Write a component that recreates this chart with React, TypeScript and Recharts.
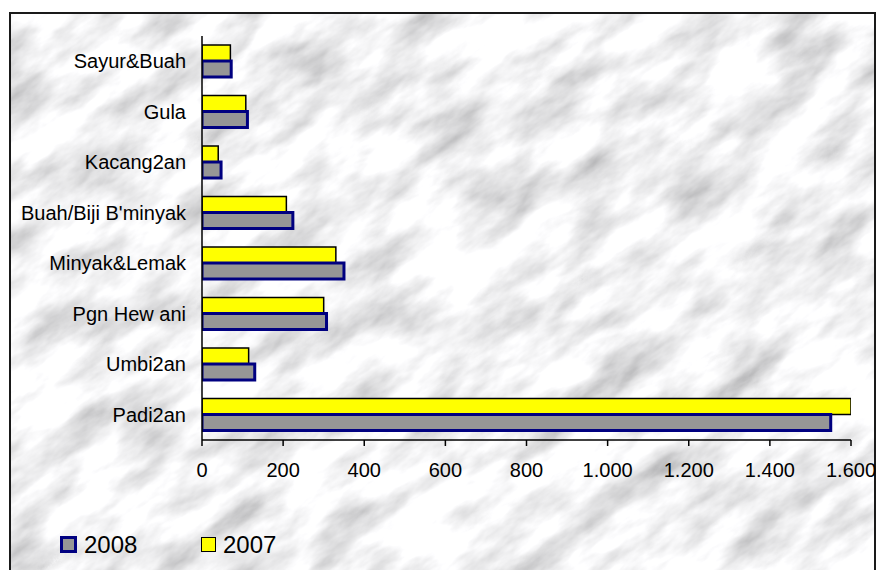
import React from 'react';
import { BarChart, Bar, XAxis, YAxis, Legend } from 'recharts';

const categories = [
  'Sayur&Buah',
  'Gula',
  'Kacang2an',
  "Buah/Biji B'minyak",
  'Minyak&Lemak',
  'Pgn Hew ani',
  'Umbi2an',
  'Padi2an',
];
const values2007 = [70, 108, 40, 208, 330, 300, 115, 1600];
const values2008 = [72, 112, 47, 224, 350, 307, 130, 1550];
const xTicks = [0, 200, 400, 600, 800, 1000, 1200, 1400, 1600];
const legendOrder = ['2008', '2007'];

const data = categories.map((name, i) => ({
  name,
  v2007: values2007[i],
  v2008: values2008[i],
}));

const FONT = "'Liberation Sans', Arial, sans-serif";

const fmt = (v: number) => String(v).replace(/\B(?=(\d{3})+(?!\d))/g, '.');

const swatch: Record<string, React.CSSProperties> = {
  '2008': {
    left: 0,
    top: 3,
    width: 17,
    height: 17,
    background: '#969696',
    border: '3px solid #000080',
  },
  '2007': {
    left: 141,
    top: 4,
    width: 15,
    height: 15,
    background: '#FFFF00',
    border: '1.5px solid #000',
  },
};
const labelLeft: Record<string, number> = { '2008': 24, '2007': 163 };

const CustomLegend = () => (
  <div style={{ position: 'relative', width: 300, height: 30, fontFamily: FONT }}>
    {legendOrder.map((k) => (
      <React.Fragment key={k}>
        <div style={{ position: 'absolute', boxSizing: 'border-box', ...swatch[k] }} />
        <div
          style={{
            position: 'absolute',
            left: labelLeft[k],
            top: 0,
            fontSize: 24,
            lineHeight: '24px',
            color: '#000',
          }}
        >
          {k}
        </div>
      </React.Fragment>
    ))}
  </div>
);

export default function App() {
  return (
    <div style={{ position: 'absolute', left: 0, top: 0, width: 877, height: 570, overflow: 'hidden', background: '#fff' }}>
      <div
        style={{
          position: 'absolute',
          left: 9,
          top: 12,
          width: 867,
          height: 570,
          boxSizing: 'border-box',
          border: '2px solid #1a1a1a',
          overflow: 'hidden',
        }}
      >
        <svg width="867" height="570" style={{ position: 'absolute', left: 0, top: 0 }}>
          <defs>
            <filter id="marble" x="0" y="0" width="100%" height="100%">
              <feTurbulence type="fractalNoise" baseFrequency="0.012 0.03" numOctaves="5" seed="7" />
              <feColorMatrix
                type="matrix"
                values="1.1 0 0 0 0.34  1.1 0 0 0 0.34  1.1 0 0 0 0.35  0 0 0 0 1"
              />
            </filter>
          </defs>
          <g transform="rotate(-35 433 285)">
            <rect x="-300" y="-300" width="1500" height="1200" filter="url(#marble)" />
          </g>
        </svg>
      </div>
      <div style={{ position: 'absolute', left: 0, top: 0 }}>
        <BarChart
          width={877}
          height={570}
          data={data}
          layout="vertical"
          margin={{ top: 36, right: 26, bottom: 70, left: 0 }}
          barGap={0}
        >
          <XAxis
            type="number"
            domain={[0, 1600]}
            ticks={xTicks}
            allowDataOverflow
            tickFormatter={fmt}
            axisLine={{ stroke: '#000', strokeWidth: 1.5 }}
            tickLine={{ stroke: '#000', strokeWidth: 1.5 }}
            tickSize={6}
            tickMargin={17}
            height={30}
            interval={0}
            tick={{ fill: '#000', fontSize: 20, fontFamily: FONT }}
          />
          <YAxis
            type="category"
            dataKey="name"
            width={202}
            axisLine={{ stroke: '#000', strokeWidth: 1.5 }}
            tickLine={false}
            tickSize={6}
            tickMargin={10}
            interval={0}
            tick={{ fill: '#000', fontSize: 20, fontFamily: FONT }}
          />
          <Legend
            content={() => <CustomLegend />}
            wrapperStyle={{ position: 'absolute', left: 60, top: 533, width: 300, height: 30 }}
          />
          <Bar
            dataKey="v2007"
            name="2007"
            fill="#FFFF00"
            stroke="#000"
            strokeWidth={1.5}
            barSize={16}
            isAnimationActive={false}
          />
          <Bar
            dataKey="v2008"
            name="2008"
            fill="#969696"
            stroke="#000080"
            strokeWidth={3}
            barSize={16}
            isAnimationActive={false}
          />
        </BarChart>
      </div>
    </div>
  );
}
